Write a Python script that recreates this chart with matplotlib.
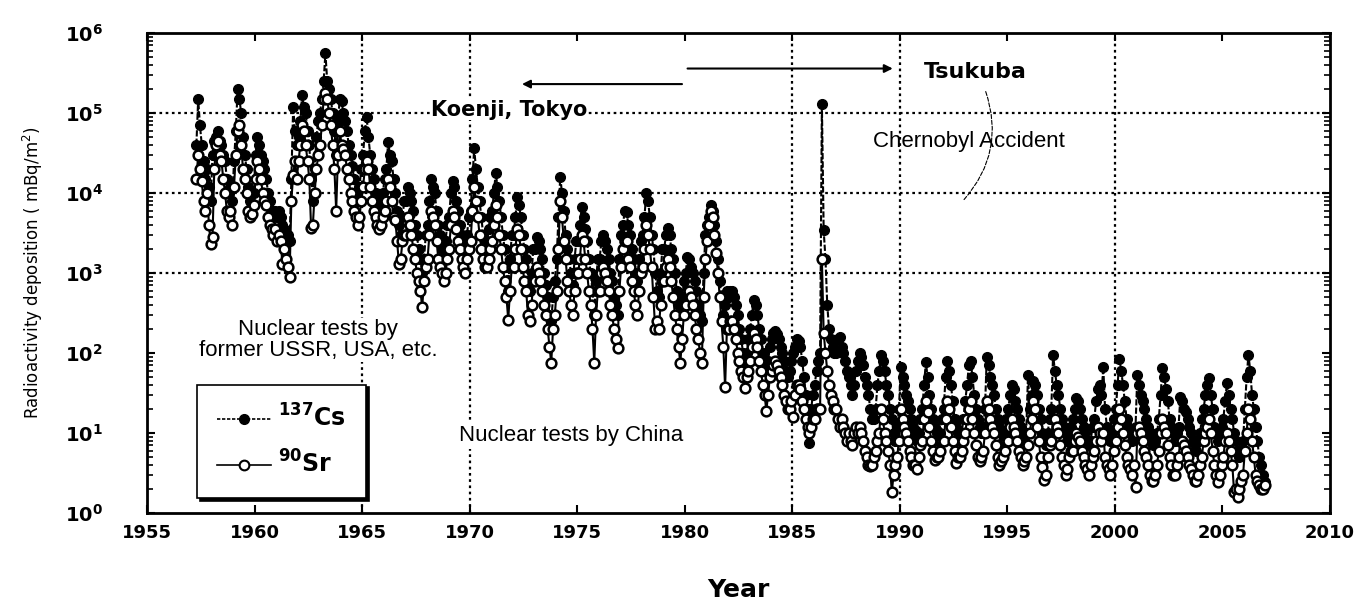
import numpy as np
import matplotlib
matplotlib.use("Agg")
import matplotlib.pyplot as plt
from matplotlib.lines import Line2D

# monthly deposition at Koenji (Tokyo) then Tsukuba, mBq/m2, starting April 1957
start_year = 1957
start_month = 4

cs137 = [
    # 1957 Apr-Dec
    40000, 150000, 70000, 40000, 25000, 15000, 20000, 12000, 8000,
    # 1958
    30000, 45000, 50000, 60000, 45000, 40000, 30000, 25000, 15000, 10000, 12000, 8000,
    # 1959
    25000, 60000, 200000, 150000, 100000, 50000, 30000, 20000, 12000, 8000, 7000, 10000,
    # 1960
    30000, 50000, 40000, 30000, 25000, 20000, 15000, 10000, 8000, 6000, 5000, 6000,
    # 1961
    5000, 6000, 5000, 4000, 3500, 3000, 3000, 2500, 15000, 120000, 60000, 40000,
    # 1962
    50000, 80000, 170000, 120000, 100000, 60000, 40000, 15000, 8000, 20000, 50000, 80000,
    # 1963
    100000, 150000, 250000, 560000, 250000, 200000, 150000, 100000, 60000, 30000, 80000, 150000,
    # 1964
    140000, 100000, 80000, 60000, 40000, 30000, 22000, 15000, 10000, 8000, 12000, 20000,
    # 1965
    30000, 60000, 90000, 50000, 30000, 20000, 15000, 10000, 8000, 6000, 7000, 10000,
    # 1966
    15000, 20000, 44000, 30000, 25000, 15000, 10000, 6000, 4000, 3000, 5000, 8000,
    # 1967
    8000, 12000, 10000, 8000, 6000, 4000, 3000, 2000, 1500, 1000, 1500, 3000,
    # 1968
    4000, 8000, 15000, 12000, 10000, 6000, 4000, 3000, 2000, 1500, 2500, 4000,
    # 1969
    5000, 10000, 14000, 12000, 8000, 6000, 4000, 3000, 2500, 2000, 3000, 5000,
    # 1970
    6000, 15000, 36000, 20000, 12000, 8000, 5000, 3000, 2500, 2000, 3500, 5000,
    # 1971
    6000, 10000, 18000, 12000, 8000, 5000, 3000, 2000, 1200, 600, 1500, 3000,
    # 1972
    3000, 5000, 9000, 7000, 5000, 3000, 2000, 1500, 800, 600, 1000, 2000,
    # 1973
    2000, 2800, 2500, 2000, 1500, 1000, 700, 500, 300, 250, 500, 800,
    # 1974
    1500, 5000, 16000, 10000, 6000, 3000, 2000, 1500, 1000, 700, 1500, 2500,
    # 1975
    2500, 4000, 6600, 5000, 3500, 2500, 1500, 1000, 600, 300, 800, 1500,
    # 1976
    1500, 2500, 3000, 2500, 2000, 1500, 1000, 800, 500, 400, 300, 1500,
    # 1977
    3000, 4000, 6000, 5800, 4000, 3000, 2000, 1500, 1000, 800, 1500, 2500,
    # 1978
    3000, 5000, 10000, 8000, 5000, 3000, 2000, 1000, 600, 500, 1000, 2000,
    # 1979
    2000, 3000, 3600, 3000, 2000, 1500, 1000, 600, 400, 300, 500, 800,
    # 1980
    1000, 1600, 1500, 1200, 1000, 800, 600, 400, 300, 250, 1000, 3000,
    # 1981
    4000, 5000, 7000, 6000, 4000, 2500, 1500, 800, 500, 300, 400, 600,
    # 1982
    500, 600, 600, 500, 400, 300, 200, 150, 100, 80, 100, 150,
    # 1983
    200, 300, 460, 400, 300, 200, 150, 100, 80, 60, 80, 120,
    # 1984
    150, 180, 190, 170, 150, 120, 100, 80, 60, 50, 60, 80,
    # 1985
    100, 120, 150, 140, 120, 80, 50, 30, 20, 7.5, 20, 30,
    # 1986
    40, 60, 80, 100, 130000, 3400, 1500, 400, 200, 150, 120, 100,
    # 1987
    100, 150, 160, 120, 100, 80, 60, 50, 40, 30, 40, 60,
    # 1988
    80, 100, 90, 70, 50, 40, 30, 20, 15, 15, 20, 40,
    # 1989
    60, 95, 80, 60, 40, 30, 20, 15, 10, 8, 12, 20,
    # 1990
    67, 50, 40, 30, 25, 20, 15, 12, 10, 8, 10, 15,
    # 1991
    20, 40, 77, 50, 30, 20, 15, 12, 10, 8, 10, 15,
    # 1992
    20, 50, 80, 60, 40, 25, 15, 12, 10, 8, 10, 15,
    # 1993
    25, 40, 70, 80, 50, 30, 20, 15, 12, 10, 12, 20,
    # 1994
    90, 70, 50, 40, 30, 20, 15, 12, 10, 8, 10, 15,
    # 1995
    20, 30, 40, 35, 25, 20, 15, 12, 10, 8, 10, 53,
    # 1996
    20, 30, 45, 40, 30, 20, 15, 10, 8, 7, 10, 15,
    # 1997
    20, 95, 60, 40, 30, 20, 15, 12, 10, 8, 10, 12,
    # 1998
    15, 20, 27, 25, 20, 15, 12, 10, 8, 7, 8, 12,
    # 1999
    15, 25, 35, 40, 30, 67, 20, 12, 10, 8, 10, 15,
    # 2000
    20, 40, 85, 60, 40, 25, 15, 12, 10, 8, 10, 12,
    # 2001
    53, 40, 30, 25, 20, 15, 12, 10, 8, 7, 8, 10,
    # 2002
    15, 30, 65, 50, 35, 25, 15, 12, 10, 8, 10, 12,
    # 2003
    28, 25, 20, 18, 15, 12, 10, 8, 7, 6, 8, 10,
    # 2004
    15, 20, 30, 40, 48, 30, 20, 12, 10, 8, 10, 12,
    # 2005
    15, 25, 42, 30, 20, 15, 10, 8, 6, 5, 6, 8,
    # 2006
    20, 50, 95, 60, 30, 20, 12, 8, 5, 4, 3, 2.4,
]

sr90 = [
    # 1957 Apr-Dec
    15000, 30000, 20000, 14000, 8000, 6000, 10000, 4000, 2300,
    # 1958
    2800, 20000, 40000, 45000, 30000, 25000, 15000, 10000, 6000, 5000, 6000, 4000,
    # 1959
    12000, 30000, 60000, 70000, 40000, 20000, 15000, 10000, 6000, 5000, 5500, 7000,
    # 1960
    15000, 25000, 20000, 15000, 10000, 8000, 7000, 5000, 4000, 3500, 3000, 3500,
    # 1961
    2500, 3000, 2500, 1300, 2000, 1500, 1200, 900, 8000, 17000, 25000, 15000,
    # 1962
    25000, 40000, 70000, 60000, 40000, 25000, 15000, 3700, 4000, 10000, 20000, 30000,
    # 1963
    40000, 70000, 150000, 180000, 150000, 100000, 70000, 40000, 20000, 6000, 30000, 60000,
    # 1964
    40000, 35000, 30000, 20000, 15000, 10000, 8000, 6000, 5000, 4000, 5000, 8000,
    # 1965
    12000, 20000, 25000, 20000, 12000, 8000, 6000, 5000, 4000, 3500, 4000, 5000,
    # 1966
    6000, 8000, 15000, 12000, 8000, 5000, 4600, 2500, 1300, 1500, 2500, 3000,
    # 1967
    3000, 5000, 4000, 3000, 2000, 1500, 1000, 800, 600, 370, 800, 1200,
    # 1968
    1500, 3000, 6000, 5000, 4000, 2500, 1500, 1200, 1000, 800, 1000, 1500,
    # 1969
    2000, 4000, 6000, 5000, 3500, 2500, 2000, 1500, 1200, 1000, 1500, 2000,
    # 1970
    2500, 6000, 12000, 8000, 5000, 3000, 2000, 1500, 1200, 1200, 1500, 2000,
    # 1971
    2500, 4000, 7000, 5000, 3000, 2000, 1200, 800, 500, 260, 600, 1200,
    # 1972
    1200, 2000, 3500, 3000, 2000, 1200, 800, 600, 300, 250, 400, 800,
    # 1973
    800, 1200, 1000, 800, 600, 400, 300, 200, 120, 75, 200, 300,
    # 1974
    600, 2000, 8000, 5000, 2500, 1500, 800, 600, 400, 300, 600, 1000,
    # 1975
    1000, 1500, 3000, 2500, 1500, 1000, 600, 400, 200, 75, 300, 600,
    # 1976
    600, 1000, 1200, 1000, 800, 600, 400, 300, 200, 150, 115, 600,
    # 1977
    1200, 2000, 2500, 2500, 1500, 1200, 800, 600, 400, 300, 600, 1000,
    # 1978
    1200, 2000, 4000, 3000, 2000, 1200, 500, 200, 250, 200, 400, 800,
    # 1979
    800, 1200, 1500, 1200, 800, 500, 300, 200, 120, 75, 150, 300,
    # 1980
    400, 600, 600, 500, 400, 300, 200, 150, 100, 75, 500, 1500,
    # 1981
    2500, 4000, 6000, 5000, 3000, 1800, 1000, 500, 250, 120, 37, 200,
    # 1982
    200, 250, 250, 200, 150, 100, 80, 60, 50, 36, 50, 60,
    # 1983
    80, 120, 180, 150, 120, 80, 60, 40, 30, 19, 30, 50,
    # 1984
    60, 70, 80, 70, 60, 50, 40, 30, 25, 20, 20, 25,
    # 1985
    16, 30, 40, 40, 35, 25, 20, 15, 12, 10, 12, 15,
    # 1986
    15, 20, 20, 20, 1500, 180, 100, 60, 40, 30, 25, 20,
    # 1987
    20, 15, 12, 15, 12, 10, 8, 10, 8, 7, 10, 12,
    # 1988
    10, 12, 10, 8, 6, 5, 4, 3.8, 4, 5, 6, 8,
    # 1989
    10, 20, 15, 10, 8, 6, 4, 1.8, 3, 4, 5, 8,
    # 1990
    20, 15, 12, 10, 8, 6, 5, 4, 4, 3.5, 5, 7,
    # 1991
    8, 15, 25, 18, 12, 8, 6, 4.6, 5, 5, 6, 8,
    # 1992
    8, 15, 25, 20, 12, 8, 6, 4.2, 5, 5, 6, 8,
    # 1993
    10, 15, 20, 25, 15, 10, 7, 5, 4.5, 5, 6, 10,
    # 1994
    25, 20, 15, 12, 10, 7, 5, 4, 4.5, 5, 6, 8,
    # 1995
    8, 12, 15, 12, 10, 8, 6, 5, 4, 4.5, 5, 7,
    # 1996
    10, 15, 25, 20, 12, 8, 5, 3.7, 2.6, 3, 5, 7,
    # 1997
    8, 15, 15, 12, 10, 7, 5, 4, 3, 3.5, 5, 6,
    # 1998
    6, 8, 10, 9, 8, 6, 5, 4, 3.5, 3, 4, 5,
    # 1999
    6, 8, 12, 10, 8, 10, 5, 4, 3.5, 3, 4, 6,
    # 2000
    8, 12, 20, 15, 10, 7, 5, 4, 3.5, 3, 4, 2.1,
    # 2001
    10, 12, 10, 8, 6, 5, 4, 3, 2.5, 2.5, 3, 4,
    # 2002
    6, 10, 15, 12, 10, 7, 5, 4, 3, 3, 4, 5,
    # 2003
    8, 8, 7, 6, 5, 4, 3.5, 3, 2.5, 2.5, 3, 4,
    # 2004
    5, 8, 10, 12, 15, 10, 6, 4, 3, 2.4, 3, 4,
    # 2005
    5, 8, 10, 8, 6, 4, 1.8, 2, 1.6, 2, 2.5, 3,
    # 2006
    6, 10, 20, 15, 8, 5, 3, 2.5, 2.2, 2, 2, 2.2,
]

year_ticks = [1955, 1960, 1965, 1970, 1975, 1980, 1985, 1990, 1995, 2000, 2005, 2010]
grid_years = [1965, 1970, 1985, 1990, 2000]
grid_decades = [1e3, 1e4, 1e5]

months = np.arange(len(cs137))
t = start_year + (start_month - 1 + months + 0.5) / 12.0

fig = plt.figure(figsize=(13.62, 6.12), dpi=100)
ax = fig.add_axes([0.108, 0.162, 0.8685, 0.784])

ax.plot(t, cs137, color="black", lw=1.5, ls=(0, (3, 1)), marker="o", ms=7,
        mfc="black", mec="black", zorder=3)
ax.plot(t, sr90, color="black", lw=1.5, marker="o", ms=7, mfc="white",
        mec="black", mew=1.8, zorder=4)

ax.set_yscale("log")
ax.set_ylim(1, 1e6)
ax.set_xlim(1955, 2010)

for g in grid_years:
    ax.axvline(g, color="black", lw=1.6, ls=(0, (1.2, 1.6)), zorder=1)
for g in grid_decades:
    ax.axhline(g, color="black", lw=1.6, ls=(0, (1.2, 1.6)), zorder=1)

ax.set_xticks(year_ticks)
ax.set_xticklabels([str(y) for y in year_ticks], fontsize=13, fontweight="bold")
ax.set_yticks([10.0 ** k for k in range(7)])
ax.set_yticklabels([r"$\mathbf{10^{%d}}$" % k for k in range(7)], fontsize=14)
ax.tick_params(axis="x", direction="in", length=6, width=1.5, top=True, pad=8)
ax.tick_params(axis="y", which="major", direction="in", length=6, width=1.5,
               right=True, pad=32)
ax.tick_params(axis="y", which="minor", direction="in", length=4, width=1.2,
               right=True)
for s in ax.spines.values():
    s.set_linewidth(2)

ax.set_ylabel(r"Radioactivity deposition ( mBq/m$^2$)", fontsize=12, labelpad=14)
ax.set_xlabel("Year", fontsize=18, fontweight="bold", labelpad=26)

# annotations
ax.annotate("", xy=(1972.3, 2.3e5), xytext=(1980.0, 2.3e5),
            arrowprops=dict(arrowstyle="-|>", color="black", lw=1.5, mutation_scale=12))
ax.annotate("", xy=(1989.8, 3.6e5), xytext=(1980.0, 3.6e5),
            arrowprops=dict(arrowstyle="-|>", color="black", lw=1.5, mutation_scale=12))
ax.text(1991.1, 3.3e5, "Tsukuba", fontsize=16, fontweight="bold", va="center", ha="left")
ax.text(1968.2, 1.1e5, "Koenji, Tokyo", fontsize=15, fontweight="bold", va="center",
        ha="left", bbox=dict(facecolor="white", edgecolor="none", pad=0.5), zorder=2)
ax.text(1993.2, 4.4e4, "Chernobyl Accident", fontsize=16, family="Liberation Sans",
        va="center", ha="center", zorder=2)
ax.annotate("", xy=(1992.9, 7.8e3), xytext=(1993.95, 2.0e5),
            arrowprops=dict(arrowstyle="-", color="black", lw=0.8, ls="--",
                            connectionstyle="arc3,rad=-0.3"))
ax.text(1962.95, 145, "Nuclear tests by\nformer USSR, USA, etc.", fontsize=16,
        family="Liberation Sans", va="center", ha="center", linespacing=1.0,
        bbox=dict(facecolor="white", edgecolor="none", pad=1), zorder=2)
ax.text(1974.7, 9.2, "Nuclear tests by China", fontsize=16, family="Liberation Sans",
        va="center", ha="center",
        bbox=dict(facecolor="white", edgecolor="none", pad=2), zorder=2)

handles = [
    Line2D([], [], color="black", lw=1.2, ls=(0, (2, 1)), marker="o", ms=7,
           mfc="black", mec="black"),
    Line2D([], [], color="black", lw=1.2, marker="o", ms=7, mfc="white",
           mec="black", mew=1.5),
]
leg = ax.legend(handles, [r"$^{\mathbf{137}}$Cs", r"$^{\mathbf{90}}$Sr"],
                loc="lower left", bbox_to_anchor=(0.042, 0.031), borderaxespad=0,
                prop=dict(weight="bold", size=17), handlelength=2.3,
                handletextpad=0.3, borderpad=0.85, labelspacing=0.8, fancybox=False,
                shadow=dict(color="black", alpha=1), framealpha=1)
leg.get_frame().set_edgecolor("black")
leg.get_frame().set_linewidth(1.2)
leg.set_zorder(6)

fig.savefig("out.png", dpi=100)
